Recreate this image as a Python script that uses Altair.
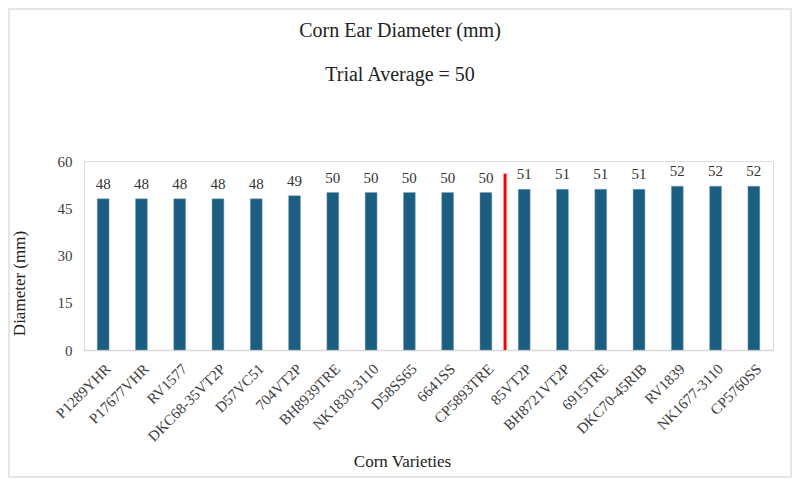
import altair as alt
import pandas as pd

varieties = ["P1289YHR", "P17677VHR", "RV1577", "DKC68-35VT2P", "D57VC51", "704VT2P",
             "BH8939TRE", "NK1830-3110", "D58SS65", "6641SS", "CP5893TRE", "85VT2P",
             "BH8721VT2P", "6915TRE", "DKC70-45RIB", "RV1839", "NK1677-3110", "CP5760SS"]
diameters = [48, 48, 48, 48, 48, 49, 50, 50, 50, 50, 50, 51, 51, 51, 51, 52, 52, 52]
y_ticks = [0, 15, 30, 45, 60]
marker_variety = ["85VT2P"]
marker_top = [56]
marker_bottom = [0]
title_text = "Corn Ear Diameter (mm)"
subtitle_text = "Trial Average = 50"

df = pd.DataFrame({"variety": varieties, "diameter": diameters})
mk = pd.DataFrame({"variety": marker_variety, "top": marker_top, "bottom": marker_bottom})

FONT = "Liberation Serif"
xscale = alt.Scale(paddingInner=0, paddingOuter=0)
yscale = alt.Scale(domain=[0, 60])

x_enc = alt.X("variety:N", sort=varieties, scale=xscale,
              axis=alt.Axis(title="Corn Varieties", labelAngle=315, ticks=False,
                            domainColor="#d9d9d9", domainWidth=1.5,
                            labelFont=FONT, labelFontSize=15, labelColor="#404040",
                            labelPadding=11,
                            titleFont=FONT, titleFontSize=17, titleFontWeight="normal",
                            titleColor="#222222", titleX=318, titleY=111,
                            titleAlign="center", titleBaseline="middle", titleAngle=0))
y_enc = alt.Y("diameter:Q", scale=yscale,
              axis=alt.Axis(title="Diameter (mm)", values=y_ticks, grid=False, domain=False,
                            ticks=False, labelPadding=12,
                            labelFont=FONT, labelFontSize=15, labelColor="#404040",
                            titleFont=FONT, titleFontSize=17, titleFontWeight="normal",
                            titleColor="#222222", titleX=-65, titleY=122,
                            titleAngle=270, titleAlign="center", titleBaseline="middle"))

base = alt.Chart(df)
bars = base.mark_bar(width=alt.RelativeBandSize(0.31), color="#1b5e80",
                     stroke="#7fa3b8", strokeWidth=0.5).encode(x=x_enc, y=y_enc)
labels = base.mark_text(font=FONT, fontSize=15, color="#333333", baseline="alphabetic",
                        dy=-10).encode(
    x=alt.X("variety:N", sort=varieties, scale=xscale),
    y=alt.Y("diameter:Q", scale=yscale),
    text=alt.Text("diameter:Q", format=".0f"))

marker = alt.Chart(mk).mark_rule(color="#ff0000", strokeWidth=3).encode(
    x=alt.X("variety:N", sort=varieties, scale=xscale, bandPosition=0),
    y=alt.Y("top:Q", scale=yscale),
    y2="bottom:Q")

frame = alt.Chart(mk).mark_rect(fill="transparent", stroke="#e6e6e6", strokeWidth=2).encode(
    x=alt.value(-75), x2=alt.value(707), y=alt.value(-152), y2=alt.value(316))

title = alt.Chart(mk).mark_text(font=FONT, fontSize=20, color="#222222",
                                baseline="middle", align="center").encode(
    x=alt.value(316), y=alt.value(-130), text=alt.value(title_text))
subtitle = alt.Chart(mk).mark_text(font=FONT, fontSize=20, color="#222222",
                                   baseline="middle", align="center").encode(
    x=alt.value(316), y=alt.value(-86), text=alt.value(subtitle_text))

chart = alt.layer(frame, title, subtitle, bars, labels, marker).properties(
    width=689, height=189,
    autosize=alt.AutoSizeParams(type="none"),
    padding={"left": 76, "top": 153, "right": 19, "bottom": 129},
).configure_view(stroke=None).configure(background="white")

chart.save("out.html", embed_options={"renderer": "svg", "actions": False})
